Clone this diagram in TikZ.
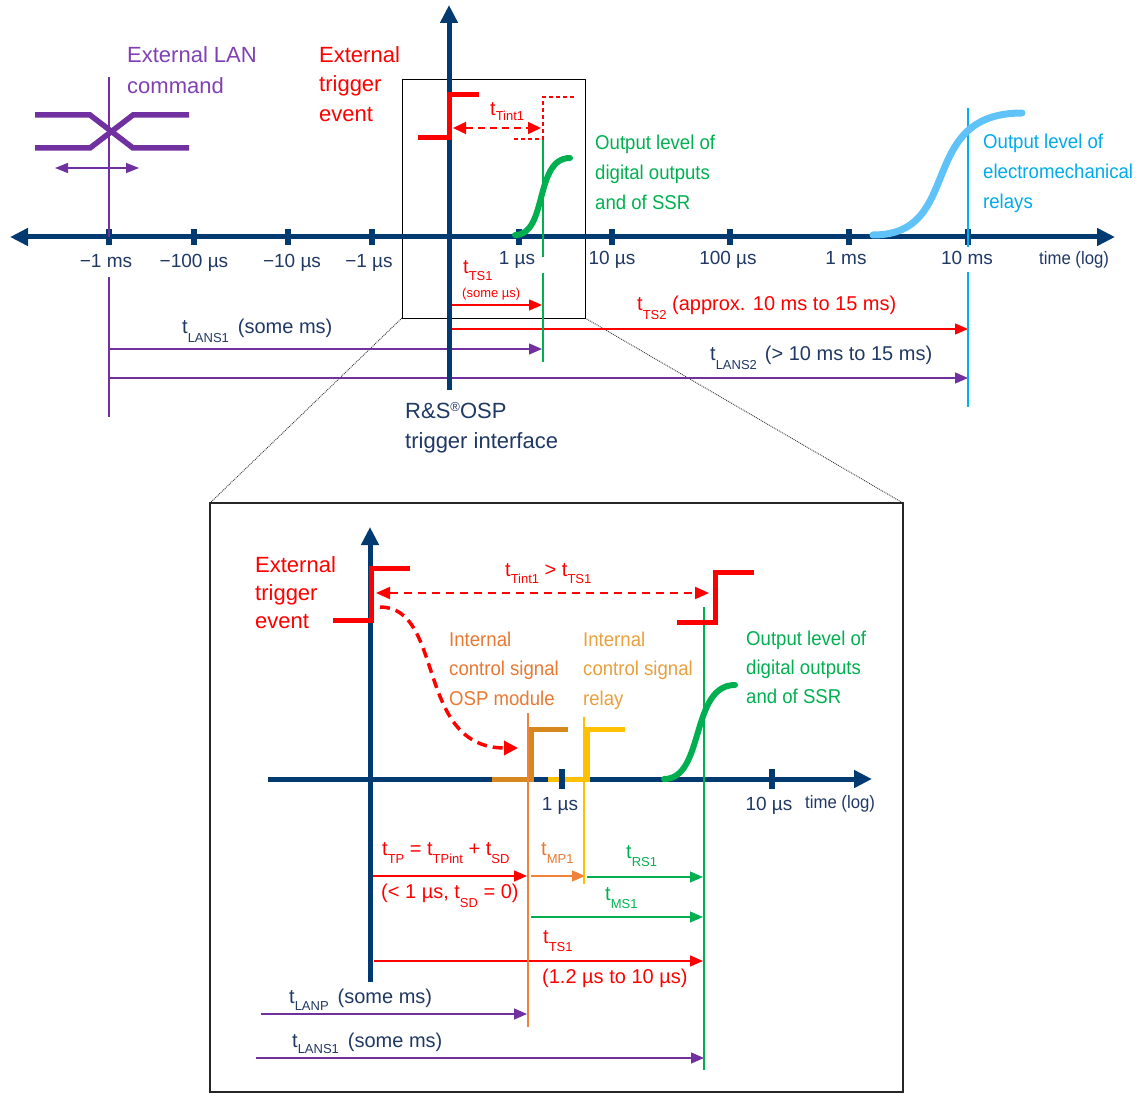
\documentclass[tikz,border=0pt]{standalone}
\usepackage{fontspec}
\setmainfont{Liberation Sans}
\newfontfamily\narrowfont[FakeStretch=0.93]{Liberation Sans}
\usetikzlibrary{arrows.meta}
\definecolor{navy}{RGB}{0,58,112}
\definecolor{navytext}{RGB}{31,56,100}
\definecolor{lanpurple}{RGB}{112,48,160}
\definecolor{lantext}{RGB}{128,64,180}
\definecolor{trigred}{RGB}{255,0,0}
\definecolor{outgreen}{RGB}{0,176,80}
\definecolor{relblue}{RGB}{95,195,250}
\definecolor{relbluetext}{RGB}{0,170,235}
\definecolor{relblueline}{RGB}{0,176,240}
\definecolor{ospstep}{RGB}{214,136,30}
\definecolor{osptext}{RGB}{232,120,50}
\definecolor{ospline}{RGB}{240,130,60}
\definecolor{relaystep}{RGB}{255,192,0}
\definecolor{relaytext}{RGB}{232,160,60}
\newcommand\lowsub[2][8]{\raisebox{-#1pt}{\fontsize{13}{13}\selectfont #2}}
\begin{document}
\begin{tikzpicture}[x=1pt,y=-1pt,
  axisline/.style={draw=navy, line width=5pt},
  bigtips/.style={{Triangle[length=18pt,width=17pt]}-{Triangle[length=18pt,width=17pt]}},
  bigtip/.style={-{Triangle[length=18pt,width=17pt]}},
  tickmark/.style={draw=navy, line width=6.5pt},
  thinarr/.style={line width=1.3pt, -{Triangle[length=13pt,width=11pt]}},
  thinboth/.style={line width=1.3pt, {Triangle[length=13pt,width=10pt]}-{Triangle[length=13pt,width=10pt]}},
  vline/.style={line width=1.3pt},
  stepsig/.style={line width=5pt, line join=miter},
  curvesig/.style={line width=6pt, line cap=round},
  txt/.style={inner sep=0pt, anchor=base west, font=\fontsize{20}{24}\selectfont},
  headtxt/.style={inner sep=0pt, anchor=base west, font=\fontsize{22}{26}\selectfont},
  ntxt/.style={inner sep=0pt, anchor=base west, font=\narrowfont\fontsize{20}{24}\selectfont},
  ticktxt/.style={inner sep=0pt, anchor=base, text=navytext, font=\fontsize{19}{21}\selectfont},
  zoomline/.style={densely dotted, line width=0.9pt, draw=black!80},
]
\useasboundingbox (0,0) rectangle (1138,1094);

% ---------- zoom frames ----------
\coordinate (ztl) at (402,80);  \coordinate (zbr) at (585,318);
\coordinate (zbl) at (402,318); \coordinate (btl) at (210,503);
\coordinate (btr) at (903,503); \coordinate (bbr) at (903,1092);
\draw[zoomline] (zbl) -- (btl);
\draw[zoomline] (zbr) -- (btr);
\draw[line width=1pt] (ztl) rectangle (zbr);
\draw[line width=1.2pt, draw=black!85] (btl) rectangle (bbr);

% ================= TOP DIAGRAM =================
% LAN command symbol
\draw[lanpurple, line width=5.5pt] (35,115) -- (90,115) -- (133,148) -- (189,148);
\draw[lanpurple, line width=5.5pt] (35,148) -- (90,148) -- (133,115) -- (189,115);
\coordinate (lanl) at (55,168); \coordinate (lanr) at (139,168);
\draw[thinboth, lanpurple] (lanl) -- (lanr);

% time arrows (top)
\coordinate (ts1a) at (452,305);  \coordinate (ts1b) at (542,305);
\coordinate (ts2a) at (449,329);  \coordinate (ts2b) at (968,329);
\coordinate (la1a) at (109,349);  \coordinate (la1b) at (542,349);
\coordinate (la2a) at (109,378);  \coordinate (la2b) at (968,378);
\draw[thinarr, trigred] (ts1a) -- (ts1b);
\draw[thinarr, trigred] (ts2a) -- (ts2b);
\draw[thinarr, lanpurple] (la1a) -- (la1b);
\draw[thinarr, lanpurple] (la2a) -- (la2b);

% axes
\coordinate (vab) at (449,390); \coordinate (vat) at (449,5);
\coordinate (hal) at (10,237);  \coordinate (har) at (1115,237);
\draw[axisline, bigtip] (vab) -- (vat);
\draw[axisline, bigtips] (hal) -- (har);
\foreach \x in {109,194,288,372,519,612,730,849,968}
  \draw[tickmark] (\x,229) -- (\x,245);

% marker lines
\draw[vline, lanpurple] (109,77) -- (109,237);
\draw[vline, lanpurple] (109,277) -- (109,417);
\draw[vline, outgreen] (543,139) -- (543,257);
\draw[vline, outgreen] (543,273) -- (543,362);
\draw[line width=1.5pt, relblueline] (968,108) -- (968,247);
\draw[line width=1.5pt, relblueline] (968,272) -- (968,407);

% trigger step and internal step
\draw[stepsig, trigred] (418,138) -- (449,138) -- (449,95) -- (479,95);
\draw[trigred, line width=1.2pt, dash pattern=on 4pt off 3pt] (514,139) -- (543,139) -- (543,97) -- (576,97);
\coordinate (tia) at (453,128); \coordinate (tib) at (541,128);
\draw[trigred, line width=1.5pt, dash pattern=on 7pt off 5pt,
      {Triangle[length=13pt,width=12pt]}-{Triangle[length=13pt,width=12pt]}] (tia) -- (tib);

% output curves
\draw[curvesig, outgreen] (515,235) .. controls (548,235) and (534,158) .. (570,158);
\draw[line width=7pt, relblue, line cap=round] (873,235) .. controls (965,235) and (915,113) .. (1022,113);

% texts (top)
\node[headtxt, text=lantext] (lanA) at (127,63) {External LAN};
\node[headtxt, text=lantext] (lanB) at (127,94) {command};
\node[headtxt, text=trigred] (trgA) at (319,63) {External};
\node[headtxt, text=trigred] (trgB) at (319,92) {trigger};
\node[headtxt, text=trigred] (trgC) at (319,122) {event};
\node[ntxt, text=outgreen] (grnA) at (595,150) {Output level of};
\node[ntxt, text=outgreen] (grnB) at (595,180) {digital outputs};
\node[ntxt, text=outgreen] (grnC) at (595,210) {and of SSR};
\node[ntxt, text=relbluetext] (bluA) at (983,149) {Output level of};
\node[ntxt, text=relbluetext] (bluB) at (983,179) {electromechanical};
\node[ntxt, text=relbluetext] (bluC) at (983,209) {relays};

\node[ticktxt] (k1) at (106,268) {−1 ms};
\node[ticktxt] (k2) at (194,268) {−100 µs};
\node[ticktxt] (k3) at (292,268) {−10 µs};
\node[ticktxt] (k4) at (369,268) {−1 µs};
\node[ticktxt] (k5) at (517,265) {1 µs};
\node[ticktxt] (k6) at (612,265) {10 µs};
\node[ticktxt] (k7) at (728,265) {100 µs};
\node[ticktxt] (k8) at (846,265) {1 ms};
\node[ticktxt] (k9) at (967,265) {10 ms};
\node[ticktxt, anchor=base west, font=\narrowfont\fontsize{18}{20}\selectfont] (k10) at (1039,265) {time (log)};

\node[txt, text=trigred] (lTint) at (490,116) {t\lowsub[5]{Tint1}};
\node[txt, text=trigred] (lTS1) at (463,273) {t\lowsub[7]{TS1}};
\node[txt, text=trigred, font=\fontsize{13}{13}\selectfont] (lsome) at (462,297) {(some µs)};
\node[txt, text=trigred] (lTS2) at (637,310) {t\lowsub[9]{TS2} (approx. 10 ms to 15 ms)};
\node[txt, text=navytext] (lLA1) at (182,333) {t\lowsub[9]{LANS1}\hspace{9pt}(some ms)};
\node[txt, text=navytext] (lLA2) at (710,360) {t\lowsub[9]{LANS2}\hspace{8pt}(> 10 ms to 15 ms)};
\node[headtxt, text=navytext] (osp1) at (405,418) {R\&S\raisebox{7pt}{\fontsize{13}{13}\selectfont ®}OSP};
\node[headtxt, text=navytext] (osp2) at (405,448) {trigger interface};

% ================= BOTTOM DIAGRAM =================
% time arrows
\coordinate (tpa) at (373,876);  \coordinate (tpb) at (527,876);
\coordinate (mpa) at (531,876);  \coordinate (mpb) at (585,876);
\coordinate (rsa) at (587,877);  \coordinate (rsb) at (703,877);
\coordinate (msa) at (531,917);  \coordinate (msb) at (703,917);
\coordinate (tsa) at (374,961);  \coordinate (tsb) at (703,961);
\coordinate (lpa) at (261,1014); \coordinate (lpb) at (527,1014);
\coordinate (lsa) at (256,1058); \coordinate (lsb) at (704,1058);
\draw[thinarr, trigred] (tpa) -- (tpb);
\draw[thinarr, ospline] (mpa) -- (mpb);
\draw[thinarr, outgreen] (rsa) -- (rsb);
\draw[thinarr, outgreen] (msa) -- (msb);
\draw[thinarr, trigred] (tsa) -- (tsb);
\draw[thinarr, lanpurple] (lpa) -- (lpb);
\draw[thinarr, lanpurple] (lsa) -- (lsb);

% axes
\coordinate (bvb) at (370,982); \coordinate (bvt) at (370,527);
\coordinate (bhl) at (268,779); \coordinate (bhr) at (872,779);
\draw[axisline, bigtip] (bvb) -- (bvt);
\draw[axisline, bigtip] (bhl) -- (bhr);

% internal control steps
\draw[stepsig, ospstep] (492,779) -- (531,779) -- (531,729) -- (568,729);
\draw[stepsig, relaystep] (548,779) -- (587,779) -- (587,729) -- (625,729);
\draw[tickmark] (562,769) -- (562,789);
\draw[tickmark] (772,769) -- (772,789);

% marker lines
\draw[vline, ospline] (528,713) -- (528,1027);
\draw[vline, relaystep] (584,717) -- (584,884);
\draw[vline, outgreen] (704,607) -- (704,1070);

% trigger steps
\draw[stepsig, trigred] (333,620) -- (371,620) -- (371,568) -- (410,568);
\draw[stepsig, trigred] (677,622) -- (715,622) -- (715,572) -- (754,572);
\coordinate (bta) at (376,593); \coordinate (btb) at (709,593);
\draw[trigred, line width=2pt, dash pattern=on 8pt off 6pt,
      {Triangle[length=14pt,width=12pt]}-{Triangle[length=14pt,width=12pt]}] (bta) -- (btb);
\coordinate (cs) at (380,607); \coordinate (ce) at (518,748);
\draw[trigred, line width=3.5pt, dash pattern=on 10pt off 6pt, -{Triangle[length=14pt,width=14pt]}]
  (cs) .. controls (445,607) and (415,748) .. (ce);

% output curve
\draw[curvesig, outgreen] (664,779) .. controls (705,779) and (690,685) .. (735,685);

% texts (bottom)
\node[headtxt, text=trigred] (tb1) at (255,572) {External};
\node[headtxt, text=trigred] (tb2) at (255,600) {trigger};
\node[headtxt, text=trigred] (tb3) at (255,628) {event};
\node[ntxt, text=osptext] (om1) at (449,646) {Internal};
\node[ntxt, text=osptext] (om2) at (449,675) {control signal};
\node[ntxt, text=osptext] (om3) at (449,705) {OSP module};
\node[ntxt, text=relaytext] (rl1) at (583,646) {Internal};
\node[ntxt, text=relaytext] (rl2) at (583,675) {control signal};
\node[ntxt, text=relaytext] (rl3) at (583,705) {relay};
\node[ntxt, text=outgreen] (gb1) at (746,645) {Output level of};
\node[ntxt, text=outgreen] (gb2) at (746,674) {digital outputs};
\node[ntxt, text=outgreen] (gb3) at (746,703) {and of SSR};
\node[txt, text=trigred] (bTint) at (505,576) {t\lowsub[7]{Tint1} > t\lowsub[7]{TS1}};

\node[ticktxt] (bk1) at (560,810) {1 µs};
\node[ticktxt] (bk2) at (769,810) {10 µs};
\node[ticktxt, anchor=base west, font=\narrowfont\fontsize{18}{20}\selectfont] (bk3) at (805,808) {time (log)};

\node[txt, text=trigred] (lTP) at (382,855) {t\lowsub{TP} = t\lowsub{TPint} + t\lowsub{SD}};
\node[txt, text=trigred] (lTPb) at (381,898) {(< 1 µs, t\lowsub[9]{SD} = 0)};
\node[txt, text=osptext] (lMP) at (541,855) {t\lowsub{MP1}};
\node[txt, text=outgreen] (lRS) at (626,858) {t\lowsub{RS1}};
\node[txt, text=outgreen] (lMS) at (605,900) {t\lowsub{MS1}};
\node[txt, text=trigred] (lTSb) at (543,943) {t\lowsub{TS1}};
\node[txt, text=trigred] (lTSc) at (542,983) {(1.2 µs to 10 µs)};
\node[txt, text=navytext] (lLP) at (289,1003) {t\lowsub[7]{LANP}\hspace{9pt}(some ms)};
\node[txt, text=navytext] (lLSb) at (292,1047) {t\lowsub[6]{LANS1}\hspace{9pt}(some ms)};
\end{tikzpicture}
\end{document}
